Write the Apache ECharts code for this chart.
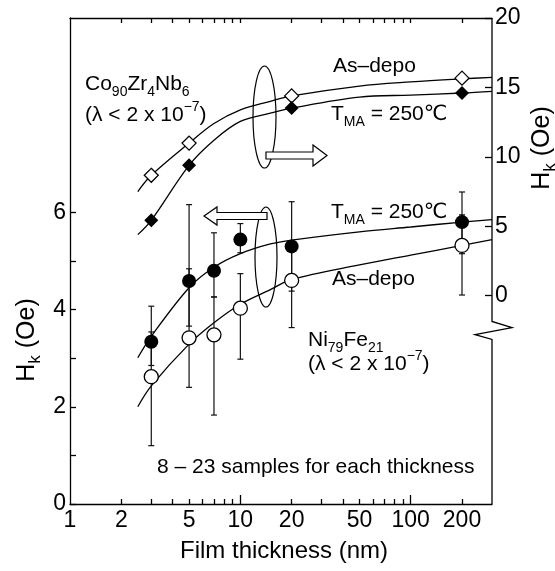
<!DOCTYPE html>
<html><head><meta charset="utf-8">
<script src="https://cdn.jsdelivr.net/npm/echarts@6/dist/echarts.min.js"></script>
<style>html,body{margin:0;padding:0;background:#fff}#c{width:555px;height:571px}</style>
</head><body><div id="c"></div>
<script>
// ---- data ----
const thickness = [3, 5, 7, 10, 20, 200];
const nifeAnnealed     = [3.34, 4.59, 4.80, 5.44, 5.30, 5.80];
const nifeAnnealedLow  = [2.85, 3.66, 4.26, 5.17, 4.38, 5.15];
const nifeAnnealedHigh = [4.07, 6.16, 5.58, 5.77, 6.22, 6.42];
const nifeAsDepo       = [2.62, 3.42, 3.48, 4.03, 4.60, 5.32];
const nifeAsDepoLow    = [1.20, 2.40, 1.83, 2.98, 3.63, 4.30];
const nifeAsDepoHigh   = [3.54, 4.84, 4.26, 4.74, 5.30, 5.95];

const cozrThickness = [3, 5, 20, 200];
const cozrAsDepo    = [8.67, 10.99, 14.39, 15.67];
const cozrAnnealed  = [5.43, 9.39, 13.51, 14.59];

// fitted curves
const fitX              = [2.5, 3, 5, 7, 10, 15, 20, 50, 100, 200, 300];
const fitNifeAnnealed   = [3.01, 3.45, 4.45, 4.87, 5.15, 5.35, 5.43, 5.60, 5.70, 5.80, 5.85];
const fitNifeAsDepo     = [2.00, 2.43, 3.29, 3.73, 4.11, 4.41, 4.62, 4.92, 5.12, 5.32, 5.44];
const fitCozrAsDepo     = [7.50, 8.67, 10.99, 12.40, 13.39, 14.00, 14.39, 15.10, 15.40, 15.62, 15.72];
const fitCozrAnnealed   = [4.40, 5.43, 9.39, 11.20, 12.55, 13.15, 13.51, 14.30, 14.45, 14.60, 14.72];

// axis ticks / labels
const xLabelValues = [1, 2, 5, 10, 20, 50, 100, 200];
const xMajorTicks  = [10, 100];
const xMinorTicks  = [2, 3, 4, 5, 6, 7, 8, 9, 20, 30, 40, 50, 60, 70, 80, 90, 200];
const topTicks     = [2, 3, 4, 5, 6, 7, 8, 9, 10, 20, 30, 40, 50, 60, 70, 80, 90, 100, 200];
const leftLabels   = [0, 2, 4, 6];
const leftTicks    = [0, 1, 2, 3, 4, 5, 6];
const rightValues  = [0, 5, 10, 15, 20];
// right axis break (values on right axis)
const breakValues  = [-1.85, -2.3, -2.8, -3.15];

const FF = '"Liberation Sans", Arial, Helvetica, "DejaVu Sans", sans-serif';
const BLACK = '#000';
const LW = 1.3;

const chart = echarts.init(document.getElementById('c'));

const zip = (xs, ys) => xs.map((x, i) => [x, ys[i]]);

function errRender(params, api) {
  const x = api.value(0);
  const lo = api.coord([x, api.value(1)]);
  const hi = api.coord([x, api.value(2)]);
  const w = 3;
  const st = { stroke: '#111', lineWidth: 1.2 };
  return { type: 'group', children: [
    { type: 'line', shape: { x1: lo[0], y1: lo[1], x2: hi[0], y2: hi[1] }, style: st },
    { type: 'line', shape: { x1: lo[0] - w, y1: lo[1], x2: lo[0] + w, y2: lo[1] }, style: st },
    { type: 'line', shape: { x1: hi[0] - w, y1: hi[1], x2: hi[0] + w, y2: hi[1] }, style: st }
  ]};
}

const lineBase = { type: 'line', smooth: 0.35, showSymbol: false, symbol: 'none',
  lineStyle: { color: BLACK, width: LW }, z: 2, silent: true };

const xCommon = { type: 'log', logBase: 10, min: 1, max: 300, splitLine: { show: false } };
const TICKFONT = 23;

chart.setOption({
  animation: false,
  backgroundColor: '#fff',
  grid: { left: 70, top: 18, right: 63, bottom: 67, containLabel: false },
  xAxis: [
    Object.assign({}, xCommon, { position: 'bottom',
      axisLine: { show: true, onZero: false, lineStyle: { color: BLACK, width: LW } },
      axisTick: { show: true, inside: true, length: 9, customValues: xMajorTicks, lineStyle: { color: BLACK, width: LW } },
      axisLabel: { show: true, customValues: xLabelValues, margin: 5, color: BLACK, fontSize: TICKFONT, fontFamily: FF }
    }),
    Object.assign({}, xCommon, { position: 'bottom',
      axisLine: { show: false, onZero: false },
      axisTick: { show: true, inside: true, length: 5, customValues: xMinorTicks, lineStyle: { color: BLACK, width: LW } },
      axisLabel: { show: false }
    }),
    Object.assign({}, xCommon, { position: 'top',
      axisLine: { show: true, onZero: false, lineStyle: { color: BLACK, width: LW } },
      axisTick: { show: true, inside: true, length: 5, customValues: topTicks, lineStyle: { color: BLACK, width: LW } },
      axisLabel: { show: false }
    })
  ],
  yAxis: [
    { type: 'value', position: 'left', min: 0, max: 10, interval: 1, splitLine: { show: false },
      axisLine: { show: true, onZero: false, lineStyle: { color: BLACK, width: LW } },
      axisTick: { show: true, inside: true, length: 6, customValues: leftTicks, lineStyle: { color: BLACK, width: LW } },
      axisLabel: { customValues: leftLabels, margin: 4, color: BLACK, fontSize: TICKFONT, fontFamily: FF }
    },
    { type: 'value', position: 'right', min: -15, max: 20, interval: 5, splitLine: { show: false },
      axisLine: { show: false, onZero: false },
      axisTick: { show: true, inside: true, length: 7, customValues: rightValues, lineStyle: { color: BLACK, width: LW } },
      axisLabel: { customValues: rightValues, margin: 3, color: BLACK, fontSize: TICKFONT, fontFamily: FF }
    }
  ],
  series: [
    Object.assign({}, lineBase, { data: zip(fitX, fitNifeAnnealed), yAxisIndex: 0 }),
    Object.assign({}, lineBase, { data: zip(fitX, fitNifeAsDepo), yAxisIndex: 0 }),
    Object.assign({}, lineBase, { data: zip(fitX, fitCozrAsDepo), yAxisIndex: 1 }),
    Object.assign({}, lineBase, { data: zip(fitX, fitCozrAnnealed), yAxisIndex: 1 }),
    { type: 'custom', yAxisIndex: 0, z: 3, renderItem: errRender, encode: { x: 0, y: [1, 2] },
      data: thickness.map((t, i) => [t, nifeAsDepoLow[i], nifeAsDepoHigh[i]]) },
    { type: 'custom', yAxisIndex: 0, z: 3, renderItem: errRender, encode: { x: 0, y: [1, 2] },
      data: thickness.map((t, i) => [t, nifeAnnealedLow[i], nifeAnnealedHigh[i]]) },
    { type: 'scatter', yAxisIndex: 0, z: 5, symbol: 'circle', symbolSize: 14,
      itemStyle: { color: '#fff', borderColor: BLACK, borderWidth: LW, opacity: 1 }, data: zip(thickness, nifeAsDepo) },
    { type: 'scatter', yAxisIndex: 0, z: 5, symbol: 'circle', symbolSize: 14,
      itemStyle: { color: BLACK, borderColor: BLACK, borderWidth: 0, opacity: 1 }, data: zip(thickness, nifeAnnealed) },
    { type: 'scatter', yAxisIndex: 1, z: 5, symbol: 'diamond', symbolSize: 14,
      itemStyle: { color: '#fff', borderColor: BLACK, borderWidth: LW, opacity: 1 }, data: zip(cozrThickness, cozrAsDepo) },
    { type: 'scatter', yAxisIndex: 1, z: 5, symbol: 'diamond', symbolSize: 14,
      itemStyle: { color: BLACK, borderColor: BLACK, borderWidth: 0, opacity: 1 }, data: zip(cozrThickness, cozrAnnealed) }
  ]
});

// ---- annotations ----
const rich = {
  n: { fontSize: 21, fontFamily: FF, color: BLACK, lineHeight: 30, verticalAlign: 'middle' },
  s: { fontSize: 14, fontFamily: FF, color: BLACK, lineHeight: 16, verticalAlign: 'bottom' },
  p: { fontSize: 14, fontFamily: FF, color: BLACK, lineHeight: 14, verticalAlign: 'top' },
  N: { fontSize: 24, fontFamily: FF, color: BLACK, lineHeight: 32, verticalAlign: 'middle' },
  Y: { fontSize: 25, fontFamily: FF, color: BLACK, lineHeight: 34, verticalAlign: 'middle' },
  S: { fontSize: 17, fontFamily: FF, color: BLACK, lineHeight: 18, verticalAlign: 'bottom' }
};
function txt(x, y, text, extra) {
  return Object.assign({ type: 'text', x: x, y: y, z: 100,
    style: { text: text, rich: rich, align: 'left', verticalAlign: 'middle', fontFamily: FF, fill: BLACK } }, extra || {});
}
const graphics = [
  { type: 'ellipse', z: 90, shape: { cx: 264.5, cy: 117, rx: 11.5, ry: 51 }, style: { fill: 'none', stroke: BLACK, lineWidth: 1.2 } },
  { type: 'ellipse', z: 90, shape: { cx: 266, cy: 257, rx: 11, ry: 50 }, style: { fill: 'none', stroke: BLACK, lineWidth: 1.2 } },
  { type: 'polygon', z: 91, shape: { points: [[266,152],[313,152],[313,145],[327,155.5],[313,166],[313,159],[266,159]] },
    style: { fill: '#fff', stroke: BLACK, lineWidth: 1.2 } },
  { type: 'polygon', z: 91, shape: { points: [[267,212.5],[217,212.5],[217,207],[204,216],[217,225],[217,219.5],[267,219.5]] },
    style: { fill: '#fff', stroke: BLACK, lineWidth: 1.2 } },
  txt(85, 84, '{n|Co}{s|90}{n|Zr}{s|4}{n|Nb}{s|6}'),
  txt(85, 115, '{n|(λ < 2 x 10}{p|−7}{n|)}'),
  txt(333, 66, '{n|As–depo}'),
  txt(331, 114, '{n|T}{s|MA}{n| = 250℃}'),
  txt(331, 212, '{n|T}{s|MA}{n| = 250℃}'),
  txt(332, 279, '{n|As–depo}'),
  txt(308, 340, '{n|Ni}{s|79}{n|Fe}{s|21}'),
  txt(308, 364, '{n|(λ < 2 x 10}{p|−7}{n|)}'),
  txt(157, 467, '{n|8 – 23 samples for each thickness}'),
  { type: 'text', x: 284, y: 551, z: 100, style: { text: '{N|Film thickness (nm)}', rich: rich, align: 'center', verticalAlign: 'middle' } },
  { type: 'text', x: 27, y: 340, z: 100, rotation: Math.PI / 2, style: { text: '{Y|H}{S|k}{Y| (Oe)}', rich: rich, align: 'center', verticalAlign: 'middle' } },
  { type: 'text', x: 542, y: 148, z: 100, rotation: Math.PI / 2, style: { text: '{Y|H}{S|k}{Y| (Oe)}', rich: rich, align: 'center', verticalAlign: 'middle' } }
];

// right frame with break, positioned through the axes
const xr = chart.convertToPixel({ xAxisIndex: 0 }, 300);
const yTop = chart.convertToPixel({ yAxisIndex: 1 }, 20);
const yBot = chart.convertToPixel({ yAxisIndex: 1 }, -15);
const yb = breakValues.map(v => chart.convertToPixel({ yAxisIndex: 1 }, v));
graphics.push({ type: 'polyline', z: 95, shape: { points: [[xr, yTop], [xr, yb[0]], [xr + 20, yb[1]], [xr - 17, yb[2]], [xr, yb[3]], [xr, yBot]] },
  style: { fill: 'none', stroke: BLACK, lineWidth: LW } });

chart.setOption({ graphic: graphics });
</script>
</body></html>
